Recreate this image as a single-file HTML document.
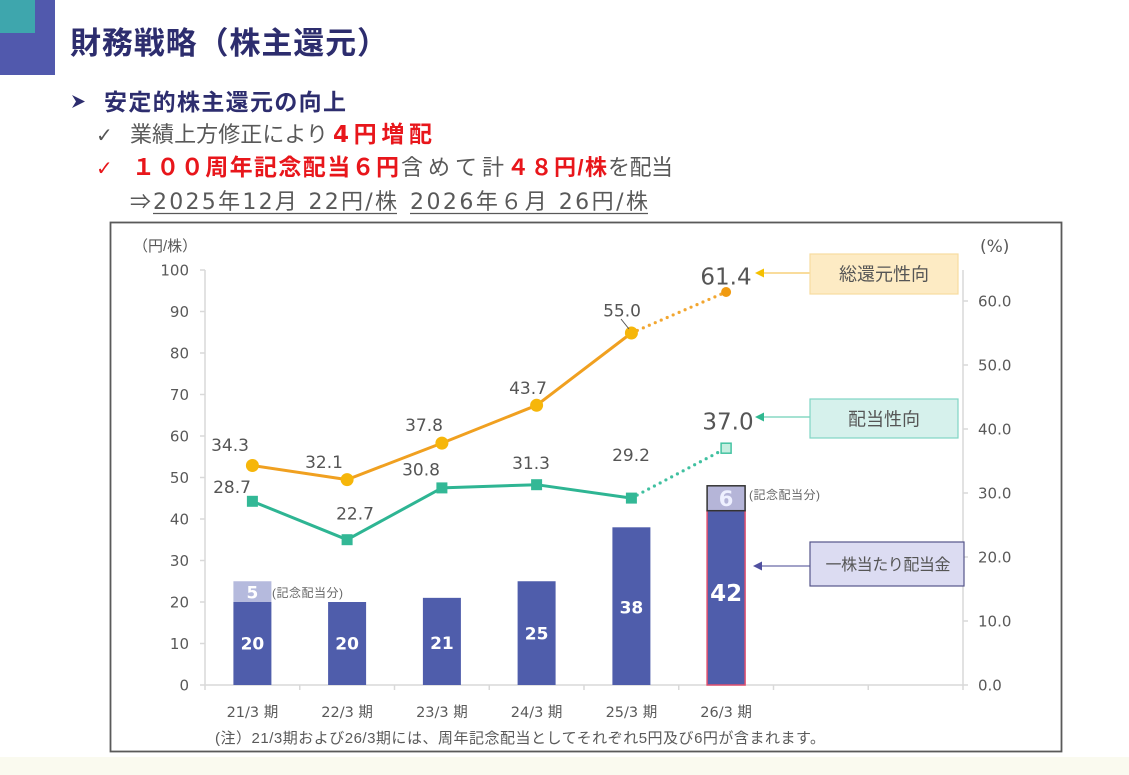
<!DOCTYPE html>
<html><head><meta charset="utf-8"><style>
html,body{margin:0;padding:0;background:#fff;}
svg{display:block;}
</style></head><body>
<svg width="1129" height="775" viewBox="0 0 1129 775" xmlns="http://www.w3.org/2000/svg">
<rect width="1129" height="775" fill="#ffffff"/>
<rect x="0" y="757" width="1129" height="18" fill="#fafaef"/>
<!-- corner blocks -->
<rect x="0" y="0" width="55" height="75" fill="#5159ad"/>
<rect x="0" y="0" width="35" height="33" fill="#3ea6ad"/>
<!-- title -->
<text x="70" y="54" font-family="Liberation Sans, Noto Sans CJK JP, sans-serif" font-weight="bold" font-size="31" fill="#2d2d6e" textLength="318" lengthAdjust="spacing">財務戦略（株主還元）</text>
<!-- bullet -->
<polygon points="72,95 85,101.5 72,108 76,101.5" fill="#2d2d6e"/>
<text x="104" y="110" font-family="Liberation Sans, Noto Sans CJK JP, sans-serif" font-weight="bold" font-size="23" fill="#2d2d6e" textLength="242" lengthAdjust="spacing">安定的株主還元の向上</text>
<!-- line 2 -->
<text x="96" y="142" font-family="DejaVu Sans, sans-serif" font-size="20" fill="#555">✓</text>
<text x="130" y="142" font-family="Liberation Sans, Noto Sans CJK JP, sans-serif" font-size="22" fill="#595959" textLength="198" lengthAdjust="spacing">業績上方修正により</text>
<text x="333" y="142" font-family="DejaVu Sans, Noto Sans CJK JP, sans-serif" font-weight="bold" font-size="23" fill="#e8161b" textLength="99" lengthAdjust="spacing">4円増配</text>
<!-- line 3 -->
<text x="96" y="175" font-family="DejaVu Sans, sans-serif" font-size="20" fill="#e8161b">✓</text>
<text x="132" y="175" font-family="Liberation Sans, Noto Sans CJK JP, sans-serif" font-weight="bold" font-size="23" fill="#e8161b" textLength="267" lengthAdjust="spacing">１００周年記念配当６円</text>
<text x="401" y="175" font-family="Liberation Sans, Noto Sans CJK JP, sans-serif" font-size="22" fill="#595959" textLength="103" lengthAdjust="spacing">含めて計</text>
<text x="507" y="175" font-family="Liberation Sans, Noto Sans CJK JP, sans-serif" font-weight="bold" font-size="22" fill="#e8161b" textLength="100" lengthAdjust="spacing">４８円/株</text>
<text x="608" y="175" font-family="Liberation Sans, Noto Sans CJK JP, sans-serif" font-size="22" fill="#595959" textLength="65" lengthAdjust="spacing">を配当</text>
<!-- line 4 -->
<text x="130" y="209" font-family="Liberation Sans, Noto Sans CJK JP, sans-serif" font-size="21" fill="#595959">⇒</text>
<text x="153" y="209" font-family="DejaVu Sans, Noto Sans CJK JP, sans-serif" font-size="22" fill="#595959" textLength="244" lengthAdjust="spacing">2025年12月 22円/株</text>
<text x="410" y="209" font-family="DejaVu Sans, Noto Sans CJK JP, sans-serif" font-size="22" fill="#595959" textLength="238" lengthAdjust="spacing">2026年６月 26円/株</text>
<line x1="153" y1="213.5" x2="397" y2="213.5" stroke="#595959" stroke-width="1.2"/>
<line x1="410" y1="213.5" x2="648" y2="213.5" stroke="#595959" stroke-width="1.2"/>

<!-- chart frame -->
<rect x="110.5" y="222.5" width="951" height="529" fill="none" stroke="#5a5a5a" stroke-width="1.8"/>

<!-- axis units -->
<text x="133" y="251" font-family="Liberation Sans, Noto Sans CJK JP, sans-serif" font-size="15" fill="#595959">（円/株）</text>
<text x="980" y="252" font-family="DejaVu Sans, sans-serif" font-size="17" fill="#595959">(%)</text>

<!-- axes -->
<g stroke="#d9d9d9" stroke-width="1.5" fill="none">
<line x1="205" y1="270" x2="205" y2="685"/>
<line x1="205" y1="685" x2="963" y2="685"/>
<line x1="963" y1="270" x2="963" y2="685"/>
<line x1="200" y1="685" x2="205" y2="685"/>
<line x1="200" y1="643.5" x2="205" y2="643.5"/>
<line x1="200" y1="602" x2="205" y2="602"/>
<line x1="200" y1="560.5" x2="205" y2="560.5"/>
<line x1="200" y1="519" x2="205" y2="519"/>
<line x1="200" y1="477.5" x2="205" y2="477.5"/>
<line x1="200" y1="436" x2="205" y2="436"/>
<line x1="200" y1="394.5" x2="205" y2="394.5"/>
<line x1="200" y1="353" x2="205" y2="353"/>
<line x1="200" y1="311.5" x2="205" y2="311.5"/>
<line x1="200" y1="270" x2="205" y2="270"/>
<line x1="205" y1="685" x2="205" y2="690"/>
<line x1="299.75" y1="685" x2="299.75" y2="690"/>
<line x1="394.5" y1="685" x2="394.5" y2="690"/>
<line x1="489.25" y1="685" x2="489.25" y2="690"/>
<line x1="584" y1="685" x2="584" y2="690"/>
<line x1="678.75" y1="685" x2="678.75" y2="690"/>
<line x1="773.5" y1="685" x2="773.5" y2="690"/>
<line x1="868.25" y1="685" x2="868.25" y2="690"/>
<line x1="963" y1="685" x2="963" y2="690"/>
<line x1="963" y1="685" x2="968" y2="685"/>
<line x1="963" y1="621" x2="968" y2="621"/>
<line x1="963" y1="557" x2="968" y2="557"/>
<line x1="963" y1="493" x2="968" y2="493"/>
<line x1="963" y1="429" x2="968" y2="429"/>
<line x1="963" y1="365" x2="968" y2="365"/>
<line x1="963" y1="301" x2="968" y2="301"/>
</g>

<!-- left tick labels -->
<g font-family="DejaVu Sans, Liberation Sans, sans-serif" font-size="15" fill="#595959" text-anchor="end">
<text x="189" y="690.5">0</text>
<text x="189" y="649">10</text>
<text x="189" y="607.5">20</text>
<text x="189" y="566">30</text>
<text x="189" y="524.5">40</text>
<text x="189" y="483">50</text>
<text x="189" y="441.5">60</text>
<text x="189" y="400">70</text>
<text x="189" y="358.5">80</text>
<text x="189" y="317">90</text>
<text x="189" y="275.5">100</text>
</g>
<!-- right tick labels -->
<g font-family="DejaVu Sans, Liberation Sans, sans-serif" font-size="15" fill="#595959" text-anchor="start">
<text x="978" y="690.5">0.0</text>
<text x="978" y="626.5">10.0</text>
<text x="978" y="562.5">20.0</text>
<text x="978" y="498.5">30.0</text>
<text x="978" y="434.5">40.0</text>
<text x="978" y="370.5">50.0</text>
<text x="978" y="306.5">60.0</text>
</g>

<!-- bars -->
<g fill="#4f5dab">
<rect x="233.4" y="602" width="38" height="83"/>
<rect x="328.1" y="602" width="38" height="83"/>
<rect x="422.9" y="597.85" width="38" height="87.15"/>
<rect x="517.6" y="581.25" width="38" height="103.75"/>
<rect x="612.4" y="527.3" width="38" height="157.7"/>
<rect x="707.1" y="510.7" width="38" height="174.3" stroke="#e0506e" stroke-width="1.5"/>
</g>
<rect x="233.4" y="581.25" width="38" height="20.75" fill="#b5badd"/>
<rect x="707.1" y="485.8" width="38" height="24.9" fill="#b5b5d8" stroke="#333" stroke-width="1.5"/>

<!-- bar labels -->
<g font-family="DejaVu Sans, Liberation Sans, sans-serif" font-weight="bold" fill="#ffffff" text-anchor="middle">
<text x="252.4" y="649.5" font-size="17">20</text>
<text x="347.1" y="649.5" font-size="17">20</text>
<text x="441.9" y="649" font-size="17">21</text>
<text x="536.6" y="639.5" font-size="17">25</text>
<text x="631.4" y="613.5" font-size="17">38</text>
<text x="726.1" y="601" font-size="23">42</text>
<text x="252.4" y="598.5" font-size="17">5</text>
<text x="726.1" y="506" font-size="21" fill="#eef0ff">6</text>
</g>
<g font-family="Liberation Sans, Noto Sans CJK JP, sans-serif" font-size="12" fill="#666">
<text x="272" y="597" textLength="71" lengthAdjust="spacing">(記念配当分)</text>
<text x="749" y="499" textLength="71" lengthAdjust="spacing">(記念配当分)</text>
</g>

<!-- orange line: total return -->
<polyline points="252.4,465.5 347.1,479.6 441.9,443.1 536.6,405.3 631.4,333" fill="none" stroke="#f0a020" stroke-width="3" stroke-linejoin="round"/>
<line x1="631.4" y1="333" x2="726.1" y2="292" stroke="#f2a630" stroke-width="3.2" stroke-linecap="round" stroke-dasharray="0 6.5"/>
<g fill="#f6b60a">
<circle cx="252.4" cy="465.5" r="6.5"/>
<circle cx="347.1" cy="479.6" r="6.5"/>
<circle cx="441.9" cy="443.1" r="6.5"/>
<circle cx="536.6" cy="405.3" r="6.5"/>
<circle cx="631.4" cy="333" r="6.5"/>
</g>
<circle cx="726.1" cy="292" r="5" fill="#f09a10"/>

<!-- teal line: payout -->
<polyline points="252.4,501.3 347.1,539.7 441.9,487.9 536.6,484.7 631.4,498.1" fill="none" stroke="#2eb593" stroke-width="3" stroke-linejoin="round"/>
<line x1="631.4" y1="498.1" x2="726.1" y2="448.2" stroke="#40c0a0" stroke-width="3.2" stroke-linecap="round" stroke-dasharray="0 6.5"/>
<g fill="#33b896">
<rect x="246.9" y="495.8" width="11" height="11"/>
<rect x="341.6" y="534.2" width="11" height="11"/>
<rect x="436.4" y="482.4" width="11" height="11"/>
<rect x="531.1" y="479.2" width="11" height="11"/>
<rect x="625.9" y="492.6" width="11" height="11"/>
</g>
<rect x="721.1" y="443.2" width="10" height="10" fill="#c6eee0" stroke="#45c3a2" stroke-width="1.5"/>

<!-- leader line for 55.0 -->
<line x1="621" y1="319" x2="629" y2="329" stroke="#555" stroke-width="1"/>

<!-- data labels -->
<g font-family="DejaVu Sans, Liberation Sans, sans-serif" font-size="17" fill="#555" text-anchor="middle">
<text x="230" y="451">34.3</text>
<text x="232" y="493">28.7</text>
<text x="324" y="468">32.1</text>
<text x="355" y="519.5">22.7</text>
<text x="424" y="431">37.8</text>
<text x="421" y="475.5">30.8</text>
<text x="528" y="394">43.7</text>
<text x="531" y="469">31.3</text>
<text x="622" y="316.5">55.0</text>
<text x="631" y="461">29.2</text>
<text x="726" y="284.5" font-size="23">61.4</text>
<text x="728" y="429.5" font-size="23">37.0</text>
</g>

<!-- callouts -->
<line x1="762" y1="273" x2="810" y2="273" stroke="#f5c860" stroke-width="1.3"/>
<polygon points="755,273 764,268.5 764,277.5" fill="#f5c000"/>
<rect x="810" y="254" width="148" height="40" fill="#fdebc4" stroke="#f7dba0" stroke-width="1.2"/>
<text x="884" y="280.5" font-family="Liberation Sans, Noto Sans CJK JP, sans-serif" font-size="18" fill="#555" text-anchor="middle">総還元性向</text>

<line x1="762" y1="417" x2="810" y2="417" stroke="#6fd0b8" stroke-width="1.3"/>
<polygon points="755,417 764,412.5 764,421.5" fill="#30b890"/>
<rect x="810" y="399" width="148" height="39" fill="#d6f1ec" stroke="#80d6c4" stroke-width="1.2"/>
<text x="884" y="425.5" font-family="Liberation Sans, Noto Sans CJK JP, sans-serif" font-size="18" fill="#555" text-anchor="middle">配当性向</text>

<line x1="761" y1="566" x2="810" y2="566" stroke="#6a6aa8" stroke-width="1.3"/>
<polygon points="753,566 762,561.5 762,570.5" fill="#5050a0"/>
<rect x="810" y="542" width="154" height="44" fill="#dcdcf2" stroke="#55558a" stroke-width="1.2"/>
<text x="888" y="570" font-family="Liberation Sans, Noto Sans CJK JP, sans-serif" font-size="16" fill="#555" text-anchor="middle" textLength="125" lengthAdjust="spacing">一株当たり配当金</text>

<!-- x labels -->
<g font-family="DejaVu Sans, Noto Sans CJK JP, sans-serif" font-size="14.5" fill="#595959" text-anchor="middle">
<text x="252.4" y="717">21/3 期</text>
<text x="347.1" y="717">22/3 期</text>
<text x="441.9" y="717">23/3 期</text>
<text x="536.6" y="717">24/3 期</text>
<text x="631.4" y="717">25/3 期</text>
<text x="726.1" y="717">26/3 期</text>
</g>
<!-- note -->
<text x="215" y="743" font-family="Liberation Sans, Noto Sans CJK JP, sans-serif" font-size="15" fill="#595959" textLength="610" lengthAdjust="spacing">(注）21/3期および26/3期には、周年記念配当としてそれぞれ5円及び6円が含まれます。</text>
</svg>
</body></html>
